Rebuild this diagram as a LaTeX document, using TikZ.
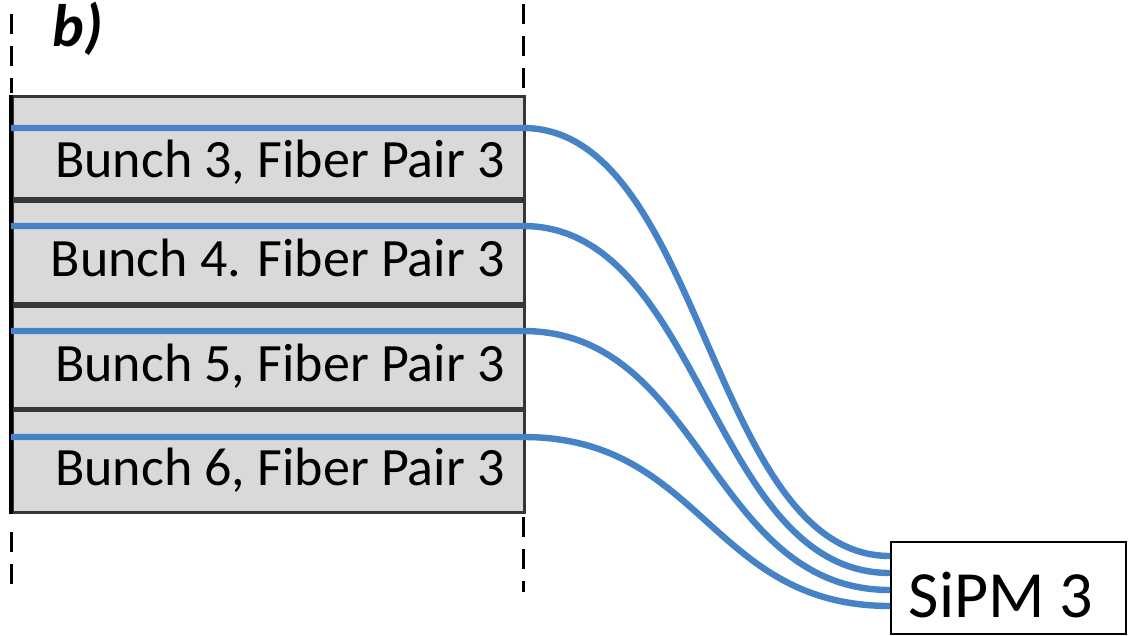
\documentclass[tikz,border=0pt]{standalone}
\usepackage{fontspec}
\setmainfont{Carlito}
\definecolor{fiber}{RGB}{70,130,198}
\definecolor{slab}{RGB}{217,217,217}
\definecolor{slabedge}{RGB}{55,55,55}
\begin{document}
\begin{tikzpicture}[x=0.5pt,y=-0.5pt,
  slabbox/.style={draw=slabedge,fill=slab,line width=1.6pt,rectangle,inner sep=0pt,anchor=north west,
    minimum width=256pt,minimum height=51pt},
  slablabel/.style={anchor=base east,inner sep=0pt,font=\fontsize{27}{30}\selectfont},
  fiberline/.style={draw=fiber,line width=3.2pt},
  guide/.style={draw=black,line width=1.5pt,dash pattern=on 10pt off 6pt},
  sipmbox/.style={draw=black,line width=1.1pt,rectangle,inner sep=0pt,anchor=north west,
    minimum width=117.5pt,minimum height=46pt}]
  \useasboundingbox[fill=white] (0,0) rectangle (1128,636);

  % panel tag
  \node[anchor=base west,inner sep=0pt,font=\fontsize{30}{34}\selectfont\bfseries\itshape] (tag) at (52,47) {b)};

  % dashed guides above and below the stack
  \coordinate (lt) at (11,14);   \coordinate (lb) at (11,93);
  \coordinate (lt2) at (11,532); \coordinate (lb2) at (11,592);
  \coordinate (rt) at (523,4);  \coordinate (rb) at (523,93);
  \coordinate (rt2) at (523,517); \coordinate (rb2) at (523,592);
  \draw[guide] (lt) -- (lb);
  \draw[guide] (lt2) -- (lb2);
  \draw[guide] (rt) -- (rb);
  \draw[guide] (rt2) -- (rb2);

  % fiber bunches
  \node[slabbox] (s1) at (11,95) {};
  \node[slabbox] (s2) at (11,200) {};
  \node[slabbox] (s3) at (11,305) {};
  \node[slabbox] (s4) at (11,409) {};
  \draw[black,line width=2pt] (s1.north west) -- (s4.south west);

  \node[slablabel] (l1) at (505,178) {Bunch 3, Fiber Pair 3};
  \node[slablabel] (l2) at (505,276) {Bunch 4. Fiber Pair 3};
  \node[slablabel] (l3) at (505,381) {Bunch 5, Fiber Pair 3};
  \node[slablabel] (l4) at (505,485) {Bunch 6, Fiber Pair 3};

  % photodetector
  \node[sipmbox] (sipm) at (890,541) {};
  \node[anchor=base,inner sep=0pt,font=\fontsize{33}{36}\selectfont] (sipmtext) at (1001,617) {SiPM 3};

  % fiber routes
  \coordinate (a1) at (11,128);  \coordinate (b1) at (523,128);  \coordinate (e1) at (890,556);
  \coordinate (a2) at (11,226);  \coordinate (b2) at (523,226);  \coordinate (e2) at (890,573);
  \coordinate (a3) at (11,331);  \coordinate (b3) at (523,331);  \coordinate (e3) at (890,590);
  \coordinate (a4) at (11,437);  \coordinate (b4) at (523,437);  \coordinate (e4) at (890,606);
  \foreach \i in {1,2,3,4}{
    \draw[fiberline] (a\i) -- (b\i) .. controls ([xshift=90pt]b\i) and ([xshift=-90pt]e\i) .. (e\i);
  }
\end{tikzpicture}
\end{document}
